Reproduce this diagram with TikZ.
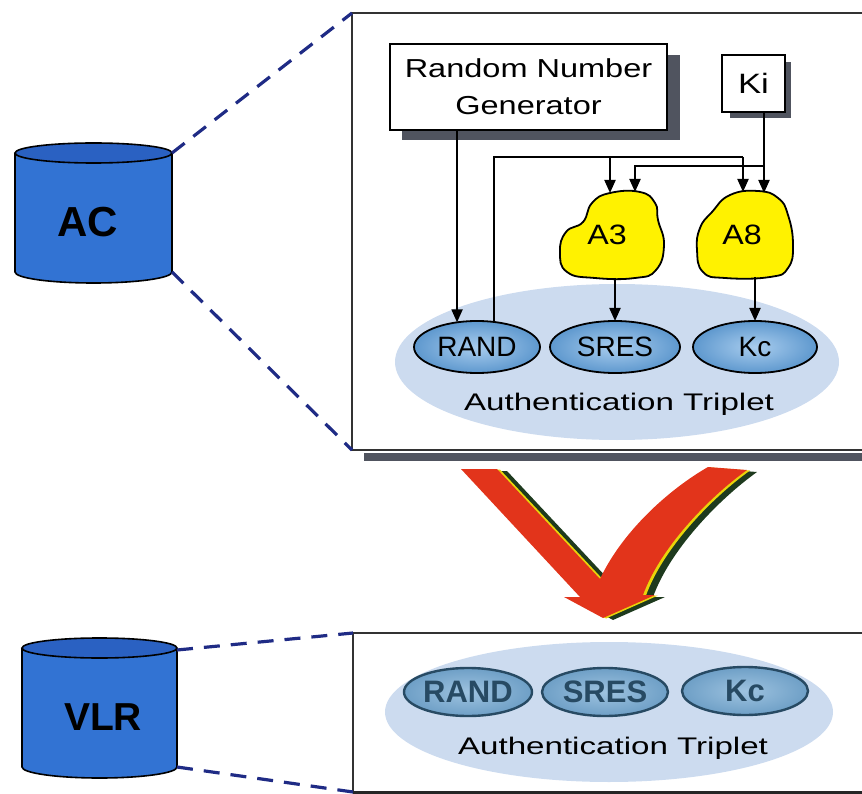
\documentclass[tikz,border=0pt]{standalone}
\usepackage{fontspec}
\setmainfont{Liberation Sans}
\usetikzlibrary{arrows.meta,shapes.geometric,calc}

\definecolor{dbblue}{HTML}{3273D3}
\definecolor{dbtop}{HTML}{2A61C2}
\definecolor{dashnavy}{HTML}{1F2B85}
\definecolor{tripfill}{HTML}{CCDBEF}
\definecolor{tokenfill}{HTML}{5E98CE}
\definecolor{tokenin}{HTML}{A9CDEE}
\definecolor{oldtoken}{HTML}{6E9FC6}
\definecolor{oldtokenin}{HTML}{9EC3E0}
\definecolor{algoyellow}{HTML}{FFF200}
\definecolor{shadowgray}{HTML}{50545F}
\definecolor{arrowred}{HTML}{E2341B}
\definecolor{arrowgreen}{HTML}{1E3A1E}
\definecolor{arrowyellow}{HTML}{E9D40A}
\definecolor{fadedink}{HTML}{274A63}

\newcommand{\hstretch}[2]{\scalebox{#1}[1]{#2}}

\begin{document}
\begin{tikzpicture}[x=1pt,y=-1pt,
  link/.style={draw=dashnavy,line width=3.2pt,dash pattern=on 16pt off 11pt},
  arr/.style={draw=black,line width=2pt,-{Triangle[length=13pt,width=11pt]}},
  wire/.style={draw=black,line width=2pt},
  panelline/.style={draw=black!80,line width=1.8pt},
  textbox/.style={draw=black,line width=1.8pt,fill=white,inner sep=0pt,align=center},
  boxshadow/.style={fill=shadowgray},
  triplet/.style={ellipse,fill=tripfill,inner sep=0pt,outer sep=0pt},
  token/.style={ellipse,draw=black,line width=1.8pt,inner color=tokenin,outer color=tokenfill,
    inner sep=0pt,outer sep=0pt,minimum height=52pt,font=\fontsize{28}{30}\selectfont},
  oldtoken/.style={ellipse,draw=fadedink,line width=2.4pt,inner color=oldtokenin,outer color=oldtoken,
    inner sep=0pt,outer sep=0pt,minimum height=48pt,text=fadedink,font=\fontsize{31}{33}\selectfont\bfseries},
  tripletlabel/.style={inner sep=0pt,font=\fontsize{24}{26}\selectfont},
  algoblob/.style={fill=algoyellow,draw=black,line width=1.8pt},
  algolabel/.style={inner sep=0pt,font=\fontsize{28}{30}\selectfont},
  dblabel/.style={inner sep=0pt,font=\fontsize{42}{44}\selectfont\bfseries},
  dbbody/.style={fill=dbblue},
  dbedge/.style={draw=black,line width=1.6pt},
]
\useasboundingbox (0,0) rectangle (862,794);

% ---------- corner points of the panels and databases ----------
\coordinate (top-tl) at (352,13);
\coordinate (top-bl) at (352,450);
\coordinate (bot-tl) at (353,633);
\coordinate (bot-bl) at (353,792);
\coordinate (ac-tr) at (172,153);
\coordinate (ac-br) at (172,272);
\coordinate (vlr-tr) at (177,650);
\coordinate (vlr-br) at (177,767);

% ---------- upper panel ----------
\fill[shadowgray] (364,453) rectangle (862,461);
\draw[panelline] (866,13) -- (top-tl) -- (top-bl) -- (866,450);

% ---------- lower panel ----------
\draw[panelline] (866,633) -- (bot-tl) -- (bot-bl);
\draw[draw=black!85,line width=3pt] (bot-bl) -- (866,792);

% ---------- AC database ----------
\fill[dbbody] (15,153) -- (15,272) arc[start angle=180,end angle=0,x radius=78.5,y radius=11] -- (172,153) -- cycle;
\draw[dbedge] (15,153) -- (15,272) arc[start angle=180,end angle=0,x radius=78.5,y radius=11] -- (172,153);
\filldraw[fill=dbtop,draw=black,line width=1.6pt] (93.5,153) ellipse[x radius=78.5,y radius=10];
\node[dblabel] (aclabel) at (88,222) {AC};

% ---------- VLR database ----------
\fill[dbbody] (22,648) -- (22,767) arc[start angle=180,end angle=0,x radius=77.5,y radius=11] -- (177,648) -- cycle;
\draw[dbedge] (22,648) -- (22,767) arc[start angle=180,end angle=0,x radius=77.5,y radius=11] -- (177,648);
\filldraw[fill=dbtop,draw=black,line width=1.6pt] (99.5,648) ellipse[x radius=77.5,y radius=10];
\node[dblabel,font=\fontsize{39}{41}\selectfont\bfseries] (vlrlabel) at (103,717) {VLR};

% ---------- dashed zoom lines ----------
\draw[link] (ac-tr) -- (top-tl);
\draw[link] (ac-br) -- (top-bl);
\draw[link] (vlr-tr) -- (bot-tl);
\draw[link] (vlr-br) -- (bot-bl);

% ---------- authentication triplet (generated) ----------
\node[triplet,minimum width=444pt,minimum height=156pt] (trip1) at (617,362) {};
\node[token,minimum width=126pt] (rand1) at (477,347) {RAND};
\node[token,minimum width=130pt] (sres1) at (615,347) {SRES};
\node[token,minimum width=124pt] (kc1) at (755,347) {Kc};
\node[tripletlabel,anchor=base] (triplbl1) at (619,410) {\hstretch{1.38}{Authentication Triplet}};

% ---------- random number generator and Ki ----------
\fill[boxshadow] (402,55) rectangle (680,140);
\node[textbox,minimum width=277pt,minimum height=86pt,font=\fontsize{26}{37}\selectfont] (rng) at (528.5,87)
  {\hstretch{1.25}{Random Number}\\\hstretch{1.25}{Generator}};
\fill[boxshadow] (730,62) rectangle (791,118);
\node[textbox,minimum width=63pt,minimum height=57pt,font=\fontsize{28}{30}\selectfont] (ki) at (753.5,83.5)
  {\hstretch{1.24}{Ki}};

% ---------- A3 and A8 algorithms ----------
\filldraw[algoblob] plot[smooth cycle,tension=0.8] coordinates {
  (610,193) (640,192) (655,203) (658,220) (664,245) (656,270) (635,278)
  (595,278) (567,272) (560,252) (566,232) (583,222) (592,203)};
\node[algolabel] (a3) at (607,235) {\hstretch{1.15}{A3}};
\filldraw[algoblob] plot[smooth cycle,tension=0.8] coordinates {
  (730,195) (758,191) (778,198) (788,215) (793,245) (788,268) (770,277)
  (725,278) (703,272) (697,250) (700,228) (712,212)};
\node[algolabel] (a8) at (742,235) {\hstretch{1.15}{A8}};

\coordinate (a3inL) at (610,193);
\coordinate (a3inR) at (635,192);
\coordinate (a8inL) at (743,192);
\coordinate (a8inR) at (764,193);
\coordinate (a3out) at (615,278);
\coordinate (a8out) at (755,277);
\coordinate (randbus) at (743,157);
\coordinate (kibus) at (764,166);

% ---------- signal flow ----------
\draw[arr] (rng.south -| rand1.129) -- (rand1.129);
\draw[wire] (rand1.56) |- (randbus);
\draw[arr] (randbus) -- (a8inL);
\draw[arr] (a3inL |- randbus) -- (a3inL);
\draw[arr] (ki.south -| a8inR) -- (a8inR);
\draw[arr] (kibus) -| (a3inR);
\draw[arr] (a3out) -- (a3out |- sres1.north);
\draw[arr] (a8out) -- (a8out |- kc1.north);

% ---------- transfer arrow ----------
\def\transferpath{(461,469) -- (497,469) -- (600,579)
  .. controls (622,532) and (668,490) .. (708,467) -- (747,470)
  .. controls (708,498) and (660,548) .. (643,595) -- (655,595) -- (603,618)
  -- (564,597) -- (580,597) -- cycle}
\fill[arrowgreen,shift={(10,2)}] \transferpath;
\fill[arrowyellow,shift={(3,0.5)}] \transferpath;
\fill[arrowred] \transferpath;

% ---------- authentication triplet (stored in VLR) ----------
\node[triplet,minimum width=448pt,minimum height=140pt] (trip2) at (609,712) {};
\node[oldtoken,minimum width=128pt] (rand2) at (468,692) {RAND};
\node[oldtoken,minimum width=126pt] (sres2) at (605,692) {SRES};
\node[oldtoken,minimum width=126pt] (kc2) at (745,691) {Kc};
\node[tripletlabel,anchor=base] (triplbl2) at (613,754) {\hstretch{1.38}{Authentication Triplet}};

\end{tikzpicture}
\end{document}
